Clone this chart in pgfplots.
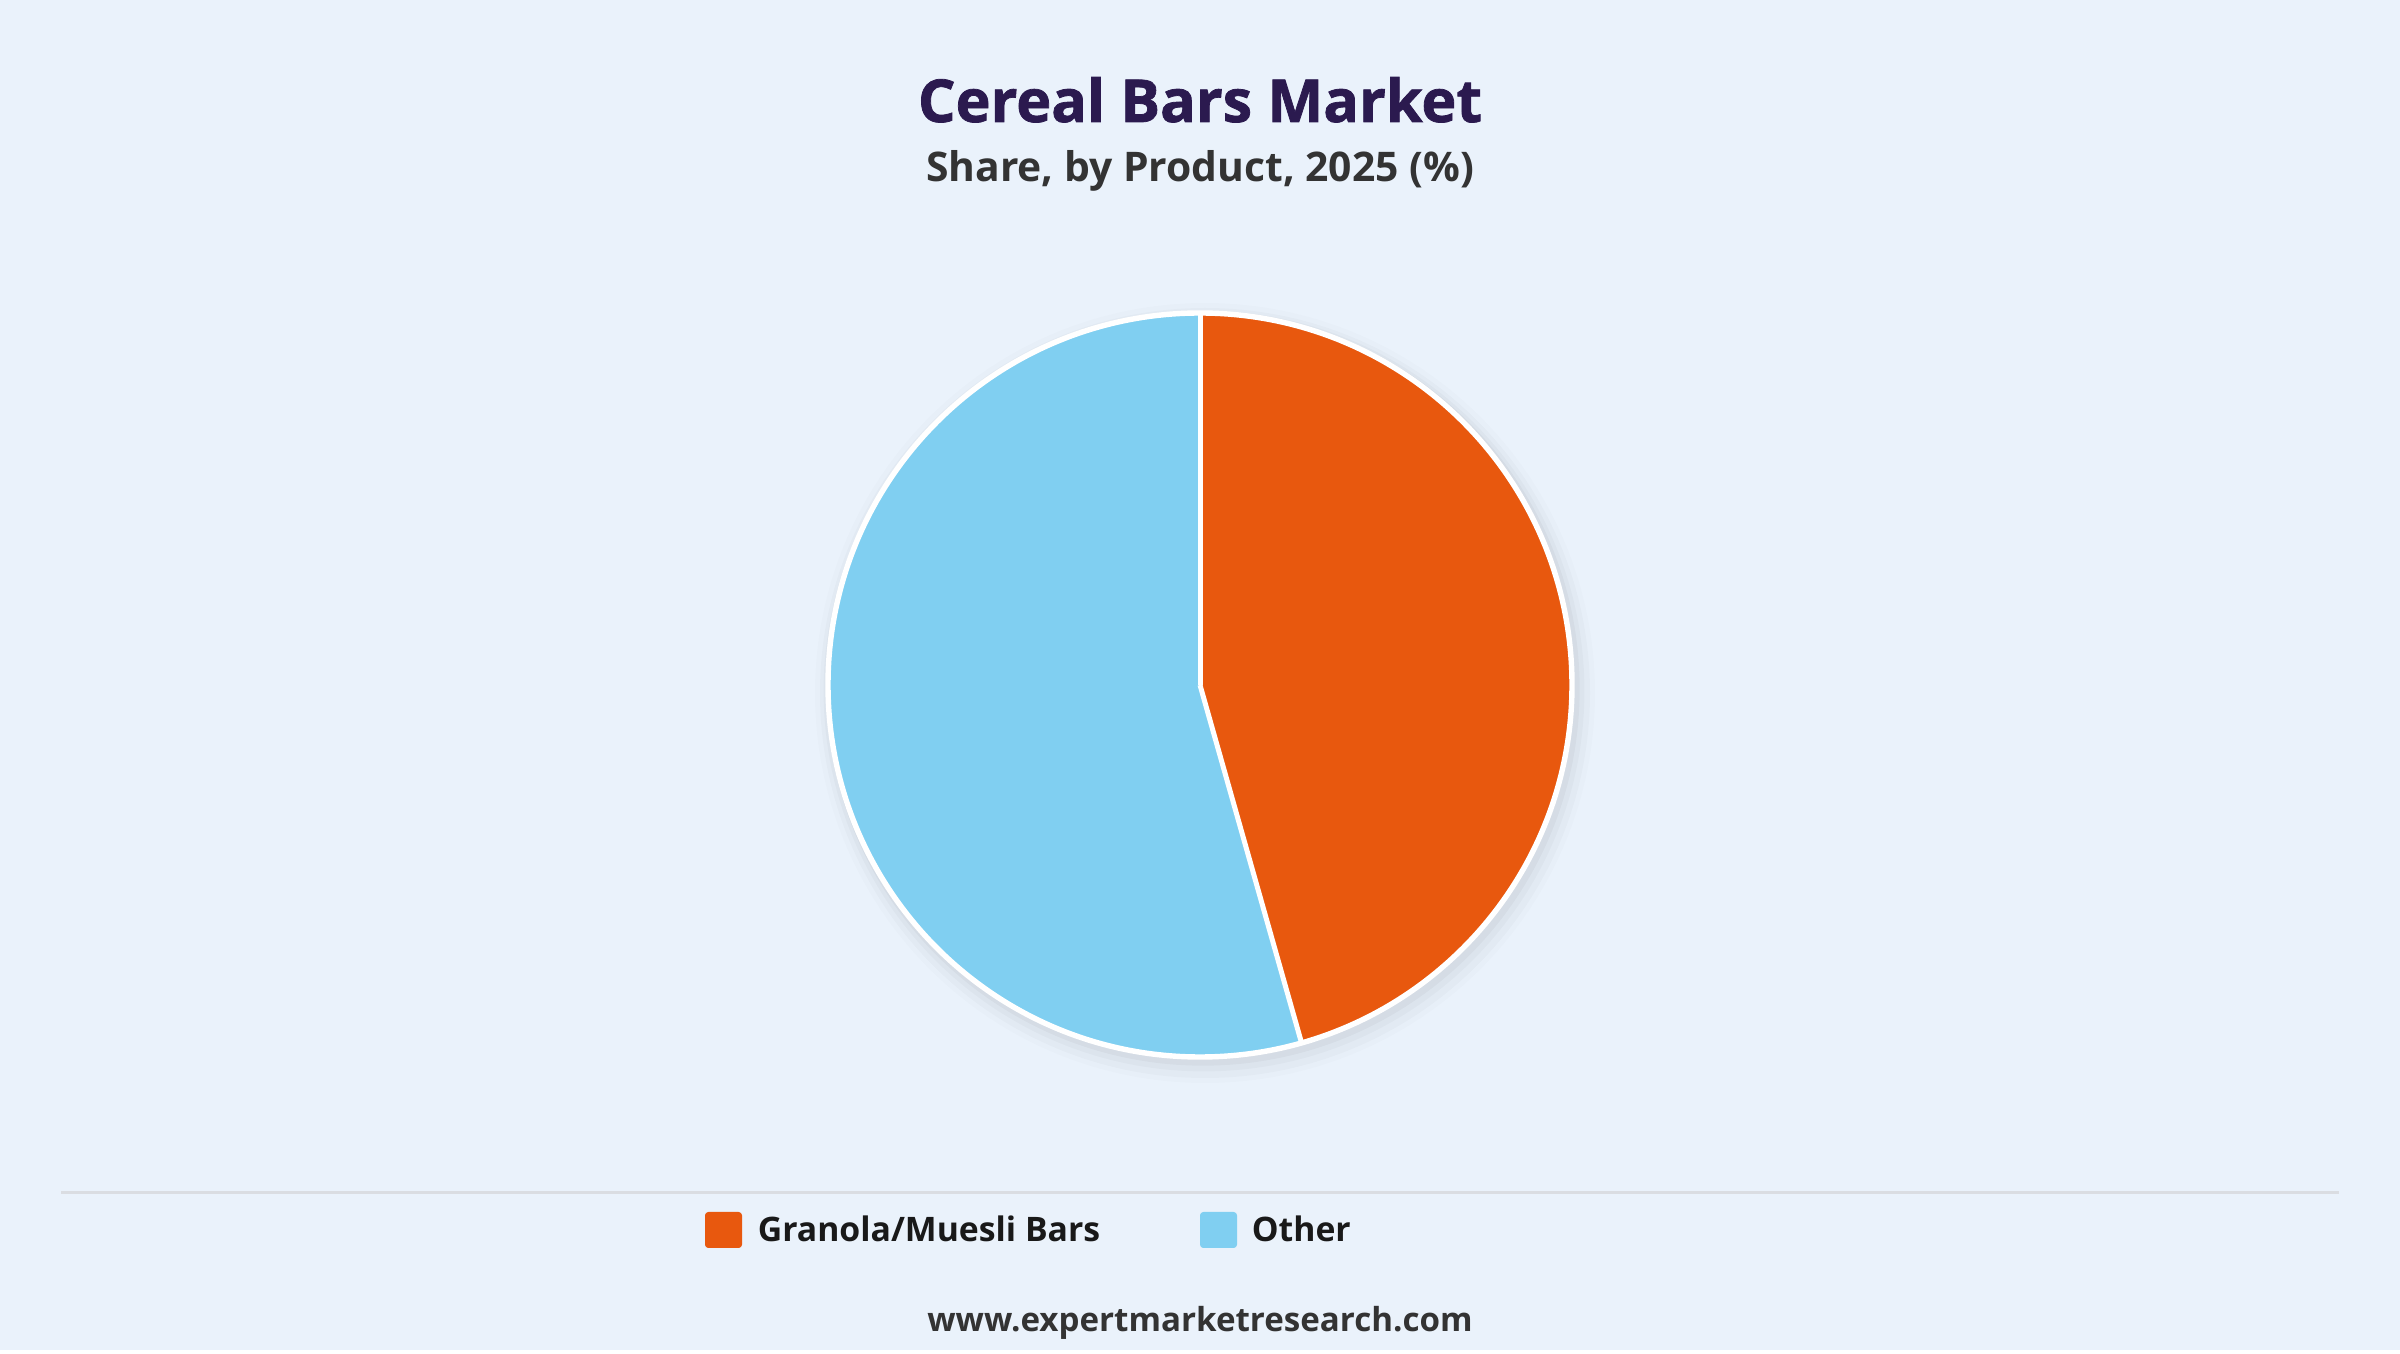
\documentclass[border=0pt]{standalone}
\usepackage{pgfplots}
\pgfplotsset{compat=1.18}
\usepackage{pgfplotstable}
\usepackage{fontspec}
\setmainfont{Open Sans}
\newfontfamily\titlefont[BoldFeatures={FakeBold=1.3}]{Open Sans}

\definecolor{bgcol}{RGB}{234,242,251}
\definecolor{granola}{RGB}{232,88,14}
\definecolor{other}{RGB}{128,207,241}
\definecolor{titlecol}{RGB}{43,26,79}
\definecolor{subcol}{RGB}{51,51,51}
\definecolor{rulecol}{RGB}{218,221,226}

% share by product, 2025 (%)
\pgfplotstableread[col sep=comma]{
label,value
Granola/Muesli Bars,45.6
Other,54.4
}\sharetable

\pgfplotstablegetelem{0}{value}\of\sharetable
\pgfmathsetmacro{\angA}{3.6*\pgfplotsretval}

\begin{document}
\begin{tikzpicture}
\begin{axis}[
    x=0.24pt, y=0.24pt,
    xmin=0, xmax=2400, ymin=0, ymax=1350,
    hide axis, clip=false, scale only axis,
]
% background
\fill[bgcol] (axis cs:0,0) rectangle (axis cs:2400,1350);
% soft shadow
\fill[black, opacity=0.012] (axis cs:1205,657) circle[radius=93.6pt];
\fill[black, opacity=0.018] (axis cs:1205,657) circle[radius=92.4pt];
\fill[black, opacity=0.024] (axis cs:1204,659) circle[radius=91.3pt];
\fill[black, opacity=0.03] (axis cs:1203,661) circle[radius=90.4pt];
% slices
\fill[granola] (axis cs:1200,665) -- ++(0,89.28pt)
   arc[start angle=90, end angle={90-\angA}, radius=89.28pt] -- cycle;
\fill[other] (axis cs:1200,665) -- ++({90-\angA}:89.28pt)
   arc[start angle={90-\angA}, end angle=-270, radius=89.28pt] -- cycle;
% white borders
\draw[white, line width=1.3pt] (axis cs:1200,665) circle[radius=89.28pt];
\draw[white, line width=1.2pt] (axis cs:1200,665) -- ++(0,89.28pt);
\draw[white, line width=1.2pt] (axis cs:1200,665) -- ++({90-\angA}:89.28pt);
% titles
\node[anchor=base, text=titlecol, font=\titlefont\fontsize{14.2}{17}\selectfont\bfseries]
  at (axis cs:1200,1228) {Cereal Bars Market};
\node[anchor=base, text=subcol, font=\fontsize{9.8}{12}\selectfont\bfseries]
  at (axis cs:1200,1168) {Share, by Product, 2025 (\%)};
% separator
\draw[rulecol, line width=0.72pt] (axis cs:61,157) -- (axis cs:2339,157);
% legend
\fill[granola, rounded corners=0.8pt] (axis cs:705,102) rectangle (axis cs:742,138);
\node[anchor=base west, inner sep=0pt, text=black!90, font=\fontsize{8.1}{10}\selectfont\bfseries]
  at (axis cs:757,108) {Granola/Muesli Bars};
\fill[other, rounded corners=0.8pt] (axis cs:1200,102) rectangle (axis cs:1237,138);
\node[anchor=base west, inner sep=0pt, text=black!90, font=\fontsize{8.1}{10}\selectfont\bfseries]
  at (axis cs:1251,108) {Other};
% footer
\node[anchor=base, text=subcol, font=\fontsize{7.95}{10}\selectfont\bfseries]
  at (axis cs:1200,18) {www.expertmarketresearch.com};
\end{axis}
\end{tikzpicture}
\end{document}
